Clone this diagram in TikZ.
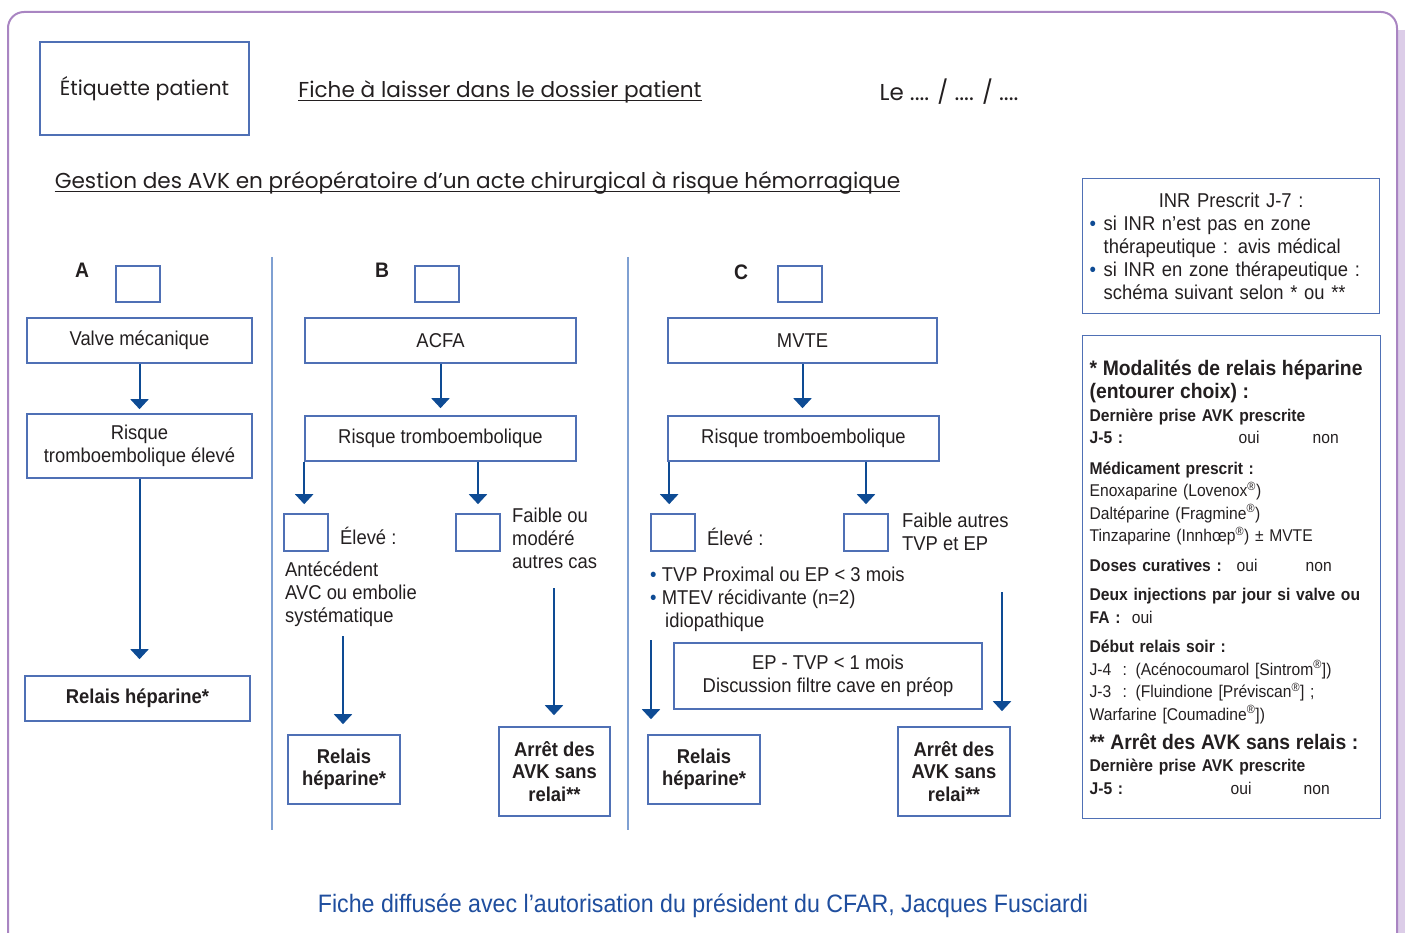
\documentclass[tikz,border=0pt]{standalone}
\usepackage{fontspec}
\setmainfont{Liberation Sans}[FakeStretch=0.92]
\newfontfamily\gothic{Poppins}
\usetikzlibrary{arrows.meta,positioning,calc}
\definecolor{boxblue}{HTML}{4F70B5}
\definecolor{arrblue}{HTML}{0E4B94}
\definecolor{sepblue}{HTML}{7FA0D2}
\definecolor{framepurple}{HTML}{A985C2}
\definecolor{shadepurple}{HTML}{DCCDE8}
\definecolor{ink}{HTML}{231F20}
\definecolor{footblue}{HTML}{1F4E9E}
\setlength{\parindent}{0pt}
\newcommand{\puce}{\textcolor{arrblue}{•}}
\newcommand{\reg}{\textsuperscript{®}}

\begin{document}
\begin{tikzpicture}[x=1pt,y=-1pt,
    every node/.style={text=ink, font=\fontsize{20}{23}\selectfont},
    box/.style={draw=boxblue, line width=1.6pt, fill=white, align=center, inner sep=2pt},
    chk/.style={draw=boxblue, line width=1.6pt, minimum width=44pt, minimum height=36pt},
    txt/.style={align=left, anchor=west, inner sep=0pt},
    entete/.style={font=\gothic\fontsize{21.6}{25}\selectfont, inner sep=0pt},
    lettre/.style={font=\fontsize{21}{23}\selectfont\bfseries},
    info/.style={draw=boxblue, line width=1.3pt, align=left, anchor=north west, inner xsep=7pt, inner ysep=0pt},
    arr/.style={-{Triangle[width=18pt,length=10pt]}, line width=2pt, draw=arrblue},
    sep/.style={line width=2pt, draw=sepblue}
]
\useasboundingbox (0,0) rectangle (1405,933);

\draw[line width=7pt, shadepurple] (1401,30) -- (1401,960);
\draw[line width=2pt, framepurple, rounded corners=16pt] (8,960) |- (1397,12) -- (1397,960);

\node[box, minimum width=209pt, minimum height=93pt, font=\gothic\fontsize{20.5}{24}\selectfont] (etiq) at (144.5,88.5) {Étiquette patient};
\node[entete] (fiche) at (500,92) {Fiche à laisser dans le dossier patient};
\node[entete, font=\gothic\fontsize{23}{25}\selectfont] (date) at (949,92) {Le .... / .... / ....};
\node[entete] (gestion) at (477.5,183) {Gestion des AVK en préopératoire d’un acte chirurgical à risque hémorragique};
\draw[line width=1pt, ink] ([yshift=-3pt]fiche.base west) -- ([yshift=-3pt]fiche.base east);
\draw[line width=1pt, ink] ([yshift=-3pt]gestion.base west) -- ([yshift=-3pt]gestion.base east);

\draw[sep] (272,257) -- (272,830);
\draw[sep] (628,257) -- (628,830);

\node[lettre] (lA) at (82,270) {A};
\node[chk] (chkA) at (138,284) {};
\node[box, minimum width=225pt, minimum height=45pt] (valveA) at (139.5,340.5) {Valve mécanique};
\node[box, minimum width=225pt, minimum height=64pt] (risqueA) at (139.5,446) {Risque\\tromboembolique élevé};
\node[box, minimum width=225pt, minimum height=45pt, font=\fontsize{20}{23}\selectfont\bfseries] (relaisA) at (137.5,698.5) {Relais héparine*};

\node[lettre] (lB) at (382,270) {B};
\node[chk] (chkB) at (437,284) {};
\node[box, minimum width=271pt, minimum height=45pt] (acfaB) at (440.5,340.5) {ACFA};
\node[box, minimum width=271pt, minimum height=45pt] (risqueB) at (440.5,438.5) {Risque tromboembolique};
\node[chk, minimum height=37pt] (chkBh) at (306,532.5) {};
\node[txt] (eleveB) at (340,536) {Élevé :};
\node[chk, minimum height=37pt] (chkBl) at (478,532.5) {};
\node[txt] (faibleB) at (512,538) {Faible ou\\modéré\\autres cas};
\node[txt] (antB) at (285,594) {Antécédent\\AVC ou embolie\\systématique};
\node[box, minimum width=112pt, minimum height=69pt, font=\fontsize{20}{22.5}\selectfont\bfseries] (relaisB) at (344,769.5) {Relais\\héparine*};
\node[box, minimum width=111pt, minimum height=89pt, font=\fontsize{20}{22.5}\selectfont\bfseries] (arretB) at (554.5,771.5) {Arrêt des\\AVK sans\\relai**};
\coordinate (antFin) at (343,636);
\coordinate (faibleFin) at (554,588);

\node[lettre] (lC) at (741,272) {C};
\node[chk] (chkC) at (800,284) {};
\node[box, minimum width=269pt, minimum height=45pt] (mvteC) at (802.5,340.5) {MVTE};
\node[box, minimum width=271pt, minimum height=45pt] (risqueC) at (803.5,438.5) {Risque tromboembolique};
\node[chk, minimum height=37pt] (chkCh) at (673,532.5) {};
\node[txt] (eleveC) at (707,537) {Élevé :};
\node[chk, minimum height=37pt] (chkCl) at (866,532.5) {};
\node[txt] (faibleC) at (902,532) {Faible autres\\TVP et EP};
\node[txt] (critC) at (650,599) {\puce\ TVP Proximal ou EP < 3 mois\\\puce\ MTEV récidivante (n=2)\\\hspace*{15pt}idiopathique};
\node[box, minimum width=308pt, minimum height=66pt] (epC) at (828,676) {EP - TVP < 1 mois\\Discussion filtre cave en préop};
\node[box, minimum width=112pt, minimum height=69pt, font=\fontsize{20}{22.5}\selectfont\bfseries] (relaisC) at (704,769.5) {Relais\\héparine*};
\node[box, minimum width=112pt, minimum height=89pt, font=\fontsize{20}{22.5}\selectfont\bfseries] (arretC) at (954,771.5) {Arrêt des\\AVK sans\\relai**};
\coordinate (eleveFin) at (651,640);
\coordinate (faibleCFin) at (1002,592);

\draw[arr, shorten >=4pt] (valveA) -- (risqueA);
\draw[arr, shorten >=16pt] (risqueA.south) -- (risqueA.south |- relaisA.north);
\draw[arr, shorten >=7pt] (acfaB) -- (risqueB);
\draw[arr, shorten >=9pt] (risqueB.south west) -- (risqueB.south west |- chkBh.north);
\draw[arr, shorten >=9pt] (chkBl.north |- risqueB.south) -- (chkBl.north);
\draw[arr, shorten >=10pt] (antFin) -- (antFin |- relaisB.north);
\draw[arr, shorten >=11pt] (faibleFin) -- (faibleFin |- arretB.north);
\draw[arr, shorten >=7pt] (mvteC) -- (mvteC |- risqueC.north);
\draw[arr, shorten >=9pt] ([xshift=2pt]risqueC.south west) -- ([xshift=2pt]risqueC.south west |- chkCh.north);
\draw[arr, shorten >=9pt] (chkCl.north |- risqueC.south) -- (chkCl.north);
\draw[arr, shorten >=15pt] (eleveFin) -- (eleveFin |- relaisC.north);
\draw[arr, shorten >=15pt] (faibleCFin) -- (faibleCFin |- arretC.north);

\node[info, text width=283pt, minimum height=135pt] (inr) at (1082,178) {%
\makebox[\hsize]{INR Prescrit J-7 :}\\
\makebox[14pt][l]{\puce}si INR n’est pas en zone\\
\hspace*{14pt}thérapeutique : avis médical\\
\makebox[14pt][l]{\puce}si INR en zone thérapeutique :\\
\hspace*{14pt}schéma suivant selon * ou **};

\node[info, text width=284pt, minimum height=483pt, font=\fontsize{17}{22.5}\selectfont] (modal) at (1082,335) {%
{\fontsize{21}{23}\selectfont\bfseries * Modalités de relais héparine\par (entourer choix) :\par}
\textbf{Dernière prise AVK prescrite}\par
\makebox[149pt][l]{\textbf{J-5 :}}\makebox[74pt][l]{oui}non\par
\vspace{8pt}
\textbf{Médicament prescrit :}\par
Enoxaparine (Lovenox\reg)\par
Daltéparine (Fragmine\reg)\par
Tinzaparine (Innhœp\reg) ± MVTE\par
\vspace{7pt}
\makebox[147pt][l]{\textbf{Doses curatives :}}\makebox[69pt][l]{oui}non\par
\vspace{7pt}
\textbf{Deux injections par jour si valve ou}\par
\textbf{FA :} \ oui\par
\vspace{7pt}
\textbf{Début relais soir :}\par
J-4 \ : (Acénocoumarol [Sintrom\reg])\par
J-3 \ : (Fluindione [Préviscan\reg] ;\par
Warfarine [Coumadine\reg])\par
{\fontsize{21}{29}\selectfont\bfseries ** Arrêt des AVK sans relais :\par}
\textbf{Dernière prise AVK prescrite}\par
\makebox[141pt][l]{\textbf{J-5 :}}\makebox[73pt][l]{oui}non\par};

\node[font=\fontsize{25.2}{29}\selectfont, text=footblue] (credit) at (703,906) {Fiche diffusée avec l’autorisation du président du CFAR, Jacques Fusciardi};
\end{tikzpicture}
\end{document}
